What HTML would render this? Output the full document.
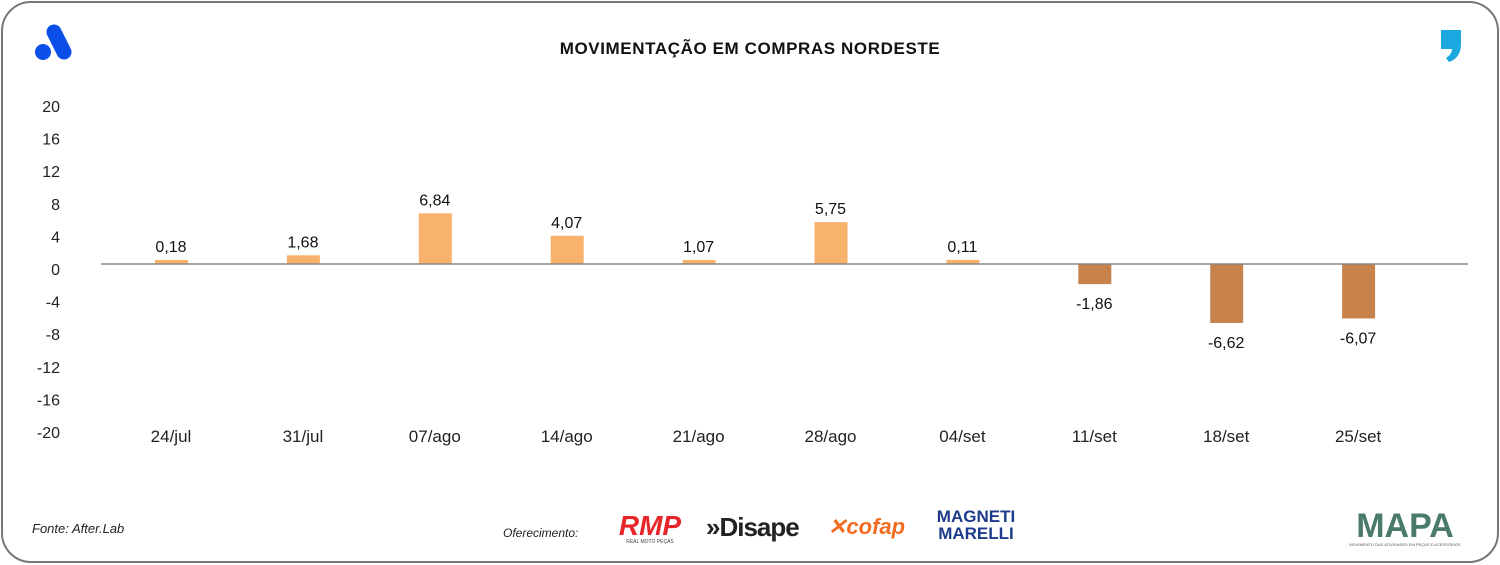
<!DOCTYPE html>
<html><head><meta charset="utf-8"><style>
body{margin:0;width:1500px;height:565px;background:#fff;font-family:"Liberation Sans",sans-serif;overflow:hidden}
#frame{position:absolute;left:1px;top:1px;width:1494px;height:558px;border:2px solid #777;border-radius:30px}
svg{position:absolute;left:0;top:0}
</style></head><body>
<div id="frame"></div>
<svg id="chart" width="1500" height="565">
<g>
<line x1="54" y1="32" x2="64" y2="52" stroke="#0b4fe8" stroke-width="15" stroke-linecap="round"/>
<circle cx="43" cy="52" r="8" fill="#0b4fe8"/>
</g>
<path d="M1441 30 h20 v14 q0 14 -12 18 l-3 -4 q6 -4 6 -9 h-11z" fill="#1ba8e0"/>
<text x="750" y="54" text-anchor="middle" font-size="17" font-weight="bold" fill="#111" letter-spacing="0.6">MOVIMENTAÇÃO EM COMPRAS NORDESTE</text>
<g id="yaxis"></g>
<g id="bars"></g>
<line x1="101" y1="264" x2="1468" y2="264" stroke="#888" stroke-width="1.5"/>
<g id="xaxis"></g>
<text x="32" y="533" font-size="13" font-style="italic" fill="#222">Fonte: After.Lab</text>
<text x="503" y="537" font-size="12" font-style="italic" fill="#222">Oferecimento:</text>
<g><text x="650" y="535" text-anchor="middle" font-size="28" font-weight="bold" font-style="italic" fill="#e8262a">RMP</text><text x="650" y="543" text-anchor="middle" font-size="5" fill="#444">REAL MOTO PEÇAS</text></g>
<g><text x="706" y="536" font-size="26" font-weight="bold" fill="#222" letter-spacing="-1">»Disape</text></g>
<g><text x="828" y="534" font-size="22" font-weight="bold" font-style="italic" fill="#f26b21">✕cofap</text></g>
<g><text x="976" y="522" text-anchor="middle" font-size="17" font-weight="bold" fill="#1c3b8a">MAGNETI</text><text x="976" y="539" text-anchor="middle" font-size="17" font-weight="bold" fill="#1c3b8a">MARELLI</text></g>
<g><text x="1405" y="537" text-anchor="middle" font-size="34" font-weight="bold" fill="#4a7a6a">MAPA</text><text x="1405" y="546" text-anchor="middle" font-size="4" fill="#555">MOVIMENTO DAS ATIVIDADES EM PEÇAS E ACESSÓRIOS</text></g>
</svg>
<script>
const categories=["24/jul","31/jul","07/ago","14/ago","21/ago","28/ago","04/set","11/set","18/set","25/set"];
const values=[0.18,1.68,6.84,4.07,1.07,5.75,0.11,-1.86,-6.62,-6.07];
const valueLabels=["0,18","1,68","6,84","4,07","1,07","5,75","0,11","-1,86","-6,62","-6,07"];
const yTicks=[20,16,12,8,4,0,-4,-8,-12,-16,-20];
const NS="http://www.w3.org/2000/svg";
const lineY=264;
function y(v){return 269-v*8.15;}
function x(i){return 171+i*131.9;}
function mk(tag,attrs,parent,txt){const e=document.createElementNS(NS,tag);for(const k in attrs)e.setAttribute(k,attrs[k]);if(txt!==undefined)e.textContent=txt;parent.appendChild(e);return e;}
const ya=document.getElementById('yaxis');
yTicks.forEach(t=>{const e=mk('text',{x:60,y:y(t)+6,'text-anchor':'end','font-size':16,fill:'#222'},ya,String(t));

});
const bg=document.getElementById('bars');
const xa=document.getElementById('xaxis');
values.forEach((v,i)=>{
 const h=Math.max(Math.abs(y(v)-lineY),4);
 const r=mk('rect',{x:x(i)-16,y:v>=0?lineY-h:lineY,width:33,height:h,fill:v>=0?'#f9b26c':'#c8834c'},bg);
 
 
 const ly=v>=0?lineY-h-8:lineY+h+25;
 const l=mk('text',{x:x(i),y:ly,'text-anchor':'middle','font-size':16,fill:'#111'},bg,valueLabels[i]);
 
 
 const c=mk('text',{x:x(i),y:442,'text-anchor':'middle','font-size':17,fill:'#222'},xa,categories[i]);
 
 
});
</script>
</body></html>
